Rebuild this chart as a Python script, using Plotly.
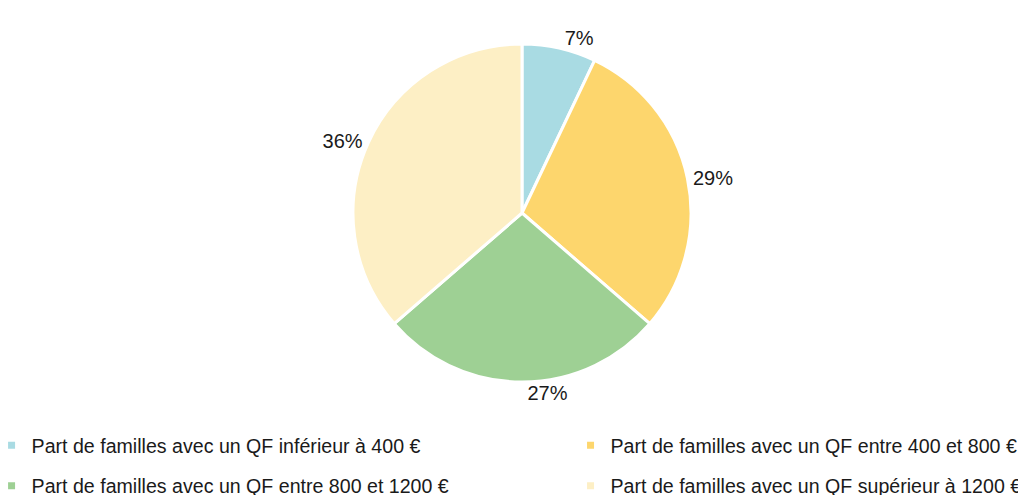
import plotly.graph_objects as go

labels = [
    "Part de familles avec un QF inférieur à 400 €",
    "Part de familles avec un QF entre 400 et 800 €",
    "Part de familles avec un QF entre 800 et 1200 €",
    "Part de familles avec un QF supérieur à 1200 €",
]
values = [7, 29, 27, 36]
colors = ["#A9DBE3", "#FDD66D", "#9ED094", "#FDEFC5"]
# legend column for each label (row-major layout in two columns)
legend_of = ["legend", "legend2", "legend", "legend2"]

FONT = "Liberation Sans, Arial, sans-serif"

fig = go.Figure()
fig.add_trace(go.Pie(
    labels=labels,
    values=values,
    sort=False,
    direction="clockwise",
    rotation=0,
    marker=dict(colors=colors, line=dict(color="white", width=3)),
    textposition="outside",
    texttemplate="%{value}%",
    textfont=dict(size=20, color="#1a1a1a", family=FONT),
    hoverinfo="label+percent",
    showlegend=False,
    domain=dict(x=[0, 1], y=[0, 1]),
))

# legend entries, split over two columns
for lab, col, lg in zip(labels, colors, legend_of):
    fig.add_trace(go.Scatter(
        x=[None], y=[None], mode="markers", name=lab,
        marker=dict(symbol="square", size=7, color=col),
        legend=lg, legendgroup=lab, hoverinfo="skip",
    ))

leg_style = dict(
    orientation="v",
    xanchor="left", yanchor="top",
    y=-0.1302,
    font=dict(size=19.6, family=FONT, color="#1a1a1a"),
    tracegroupgap=12,
    bgcolor="rgba(0,0,0,0)",
)

fig.update_layout(
    width=1026,
    height=495,
    margin=dict(l=2, r=0, t=36, b=121, autoexpand=False),
    paper_bgcolor="white",
    plot_bgcolor="white",
    font=dict(family=FONT, size=19.6, color="#1a1a1a"),
    xaxis=dict(visible=False),
    yaxis=dict(visible=False),
    legend=dict(x=-0.018, **leg_style),
    legend2=dict(x=0.5474, **leg_style),
)

fig.write_html("out.html")
